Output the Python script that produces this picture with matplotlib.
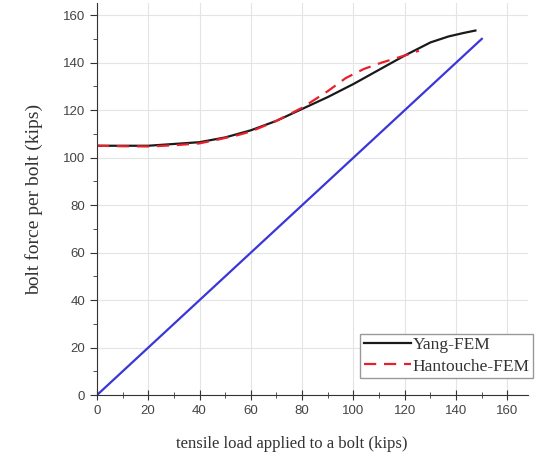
import numpy as np
import matplotlib.pyplot as plt
from matplotlib.ticker import MultipleLocator

# data
yang_x = [0, 20, 40, 50, 60, 70, 80, 90, 100, 110, 120, 130, 137, 143, 147.5]
yang_y = [105, 105, 106.5, 108.5, 111.5, 115.5, 120.5, 125.5, 131, 137, 143, 148.5, 151, 152.5, 153.5]

han_x = [0, 10, 20, 30, 40, 48, 55, 60, 70, 80, 90, 97, 104, 111, 120, 125.5]
han_y = [105, 104.8, 104.7, 105.2, 106, 107.8, 109.5, 111, 115.5, 121, 128, 133.5, 137.3, 140, 143, 145]

line_x = [0, 150]
line_y = [0, 150]

fig = plt.figure(figsize=(5.41, 4.59), dpi=100)
ax = fig.add_axes([0.179, 0.139, 0.797, 0.854])

ax.plot(line_x, line_y, color='#3a36d8', lw=1.6)
ax.plot(yang_x, yang_y, color='#1a1a1a', lw=1.6, label='Yang-FEM')
ax.plot(han_x, han_y, color='#e8202a', lw=1.6, ls=(0, (5.5, 3.5)), label='Hantouche-FEM')

ax.set_xlim(0, 168)
ax.set_ylim(0, 165)
ax.xaxis.set_major_locator(MultipleLocator(20))
ax.xaxis.set_minor_locator(MultipleLocator(10))
ax.yaxis.set_major_locator(MultipleLocator(20))
ax.yaxis.set_minor_locator(MultipleLocator(10))
ax.grid(True, which='major', color='#e4e4e4', lw=0.8)
ax.set_axisbelow(True)

for s in ['top', 'right']:
    ax.spines[s].set_visible(False)
ax.spines['left'].set_color('#333333')
ax.spines['bottom'].set_color('#333333')

tickfont = 'Liberation Sans'
ax.tick_params(axis='x', which='major', direction='inout', length=7, color='#333333', labelsize=9.5, labelcolor='#444444')
ax.tick_params(axis='x', which='minor', direction='inout', length=4, color='#333333')
ax.tick_params(axis='y', which='major', direction='out', length=5, color='#333333', labelsize=9.5, labelcolor='#444444')
ax.tick_params(axis='y', which='minor', direction='out', length=3, color='#333333')
for lab in ax.get_xticklabels() + ax.get_yticklabels():
    lab.set_fontfamily(tickfont)

ax.set_xlabel('tensile load applied to a bolt (kips)', family='Liberation Serif', fontsize=12, color='#333333')
ax.xaxis.set_label_coords(0.452, -0.105)
ax.set_ylabel('bolt force per bolt (kips)', family='Liberation Serif', fontsize=14, color='#333333', labelpad=14)

leg = ax.legend(loc='lower right', bbox_to_anchor=(0.985, 0.1765), bbox_transform=fig.transFigure,
                prop={'family': 'Liberation Serif', 'size': 12.5},
                fancybox=False, framealpha=1, edgecolor='#999999', handlelength=2.7, handletextpad=0.1,
                borderpad=0.2, labelspacing=0.3, borderaxespad=0)
for t in leg.get_texts():
    t.set_color('#333333')

fig.savefig('out.png', dpi=100)
